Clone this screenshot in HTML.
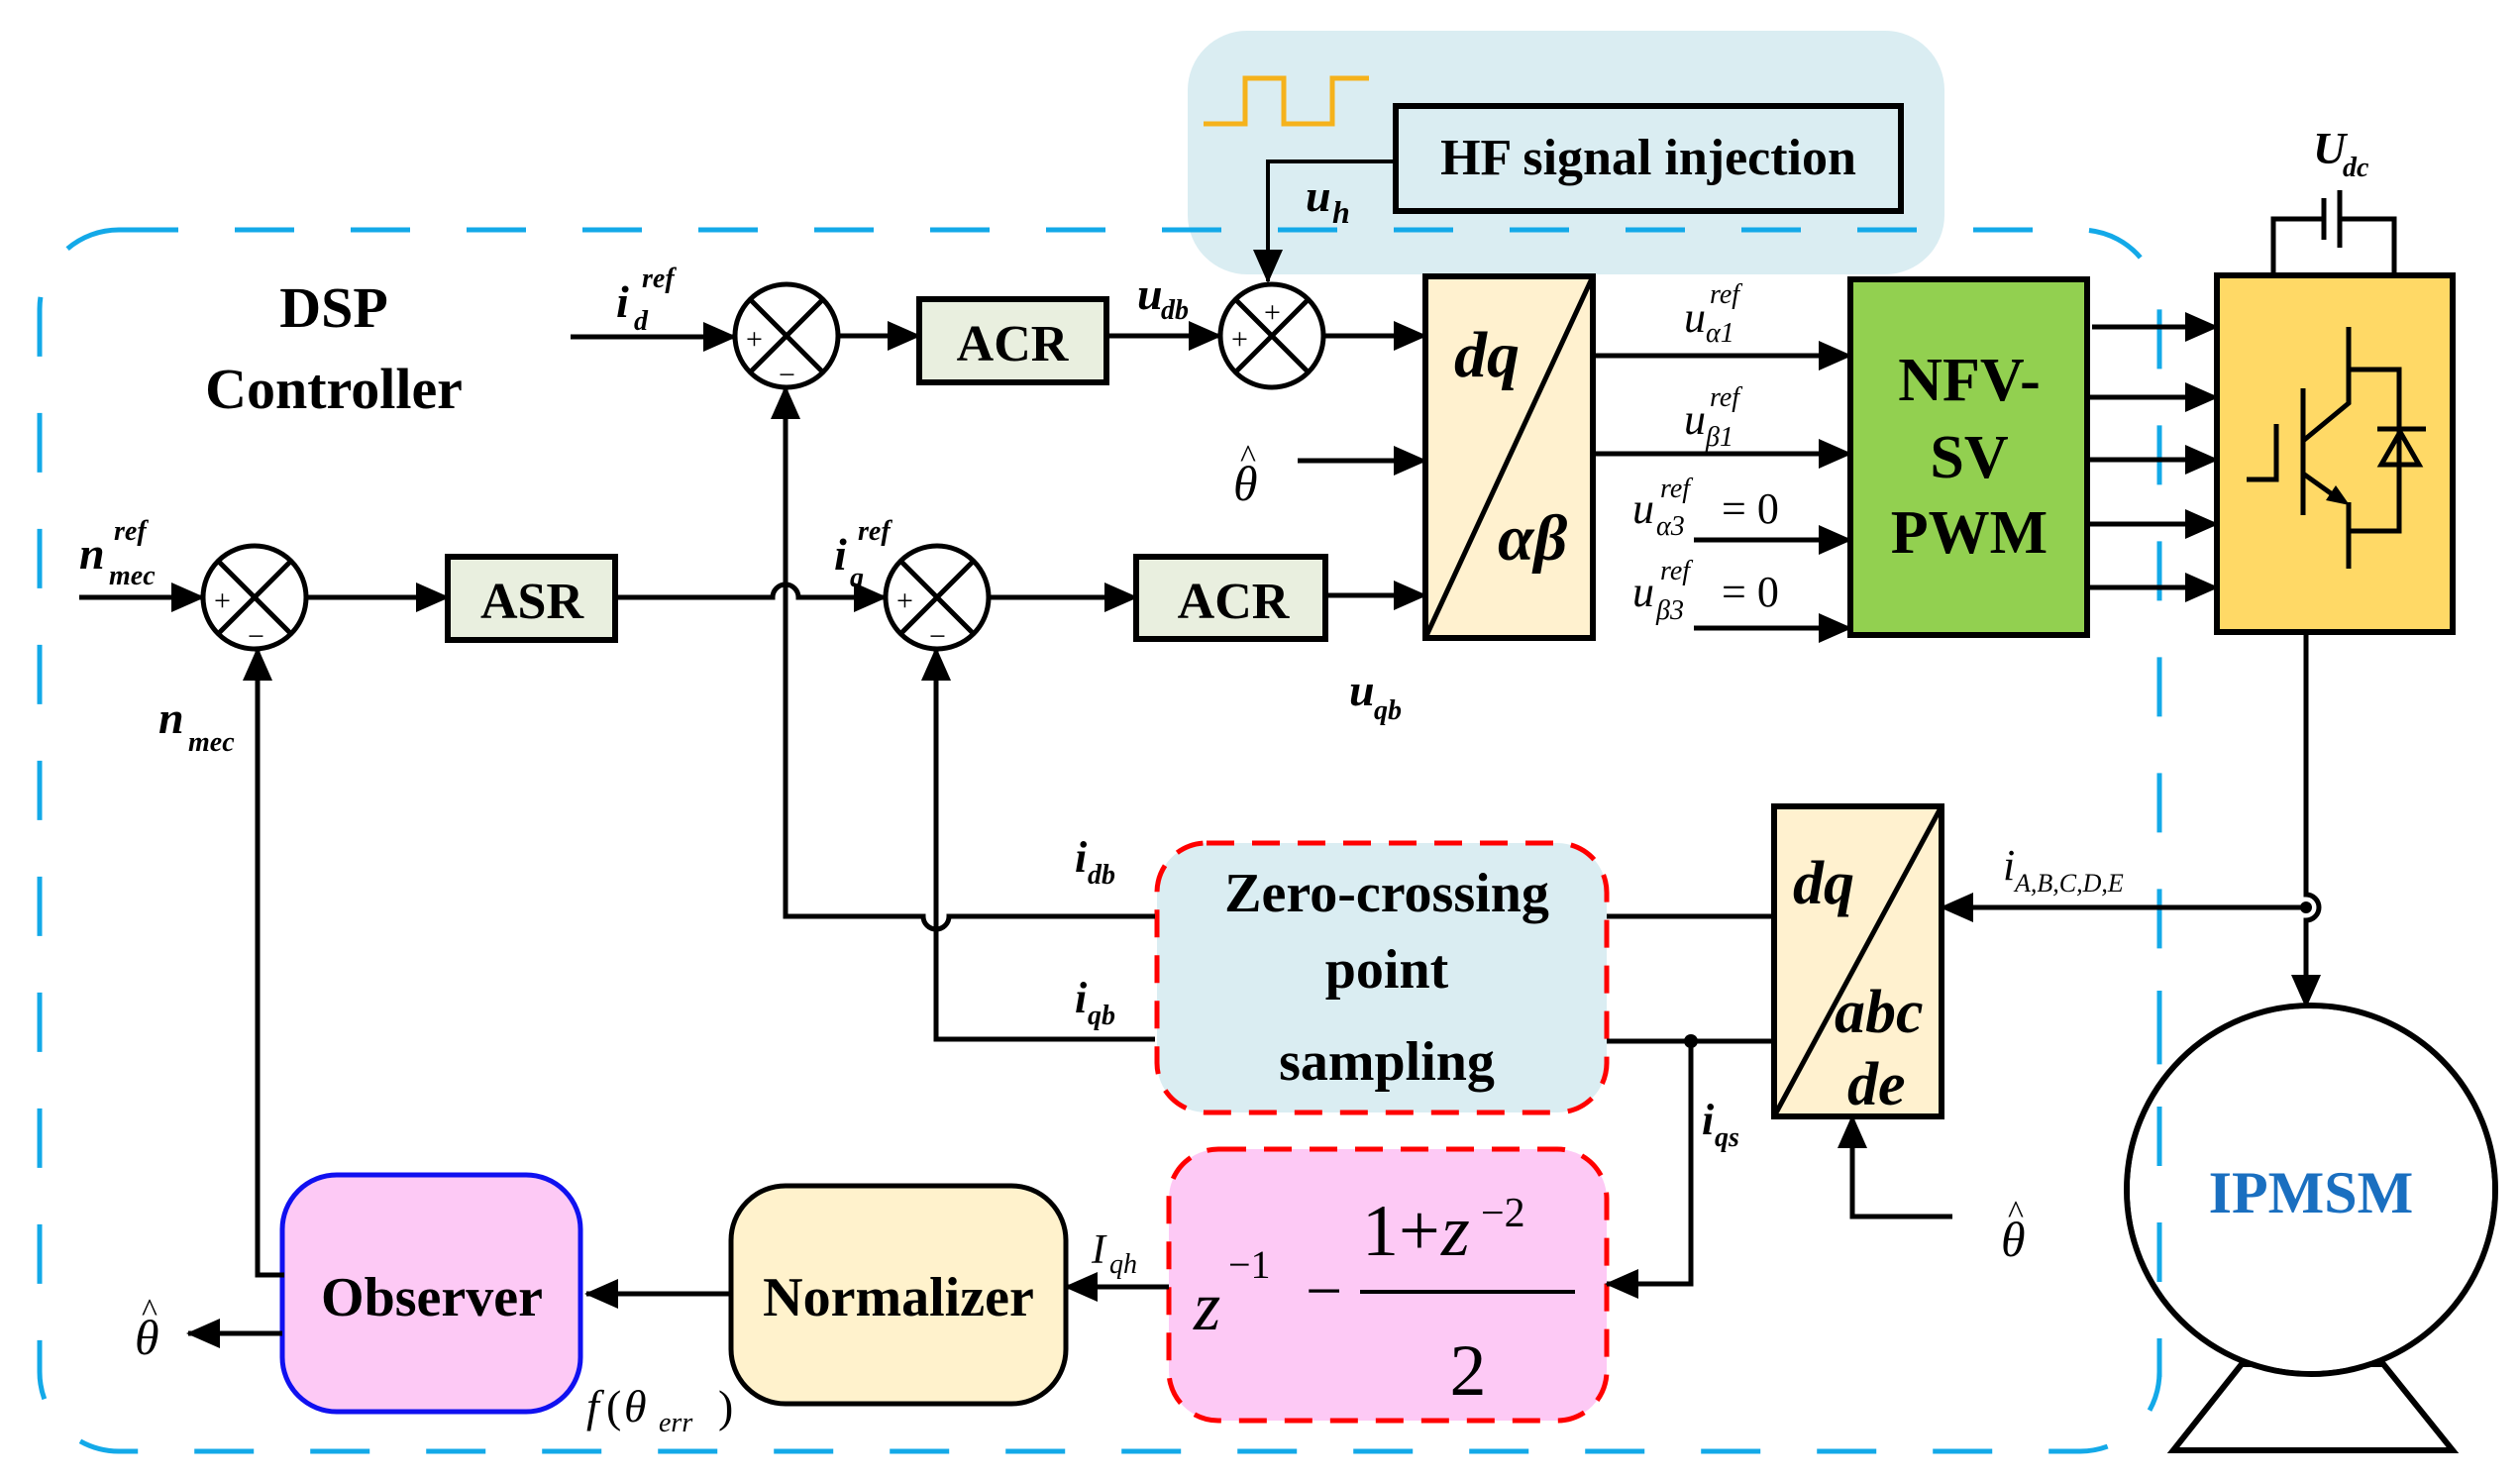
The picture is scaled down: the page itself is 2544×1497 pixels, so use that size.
<!DOCTYPE html>
<html><head><meta charset="utf-8"><style>
html,body{margin:0;padding:0;background:#fff;}
svg{display:block;}
text{font-family:"Liberation Serif",serif;}
.b{font-weight:bold;}
.i{font-style:italic;}
</style></head><body>
<svg width="2544" height="1497" viewBox="0 0 2544 1497" xmlns="http://www.w3.org/2000/svg">
<defs>
<marker id="a" markerUnits="userSpaceOnUse" markerWidth="34" markerHeight="30" refX="32" refY="15" orient="auto">
<path d="M0,0 L34,15 L0,30 z" fill="#000"/>
</marker>
</defs>

<!-- HF region -->
<rect x="1199" y="31" width="764" height="246" rx="60" fill="#daedf2"/>
<polyline points="1215,125 1257,125 1257,79 1296,79 1296,125 1345,125 1345,79 1382,79" fill="none" stroke="#f5b21c" stroke-width="5"/>
<rect x="1409" y="107" width="510" height="106" fill="none" stroke="#000" stroke-width="6"/>
<text x="1664" y="176" text-anchor="middle" class="b" font-size="52">HF signal injection</text>
<polyline points="1409,163 1280,163 1280,284" fill="none" stroke="#000" stroke-width="4" marker-end="url(#a)"/>
<text x="1318" y="213" class="b i" font-size="46">u</text><text x="1345" y="225" class="b i" font-size="32">h</text>

<!-- DSP dashed box -->
<path d="M120,232 L2100,232 A80,80 0 0 1 2180,312 L2180,1385 A80,80 0 0 1 2100,1465 L120,1465 A80,80 0 0 1 40,1385 L40,312 A80,80 0 0 1 120,232 Z" fill="none" stroke="#13a9e8" stroke-width="5" stroke-dasharray="60,57"/>
<text x="337" y="330" text-anchor="middle" class="b" font-size="58">DSP</text>
<text x="337" y="412" text-anchor="middle" class="b" font-size="58">Controller</text>

<g stroke="#000" stroke-width="5" fill="none">
<circle cx="794" cy="339" r="52"/>
<line x1="757" y1="302" x2="831" y2="376"/><line x1="831" y1="302" x2="757" y2="376"/>
<circle cx="1284" cy="339" r="52"/>
<line x1="1247" y1="302" x2="1321" y2="376"/><line x1="1321" y1="302" x2="1247" y2="376"/>
<circle cx="257" cy="603" r="52"/>
<line x1="220" y1="566" x2="294" y2="640"/><line x1="294" y1="566" x2="220" y2="640"/>
<circle cx="946" cy="603" r="52"/>
<line x1="909" y1="566" x2="983" y2="640"/><line x1="983" y1="566" x2="909" y2="640"/>
</g>
<g font-size="30" font-family="Liberation Serif">
<text x="753" y="352">+</text><text x="786" y="388">−</text>
<text x="1243" y="352">+</text><text x="1276" y="325">+</text>
<text x="216" y="616">+</text><text x="250" y="652">−</text>
<text x="905" y="616">+</text><text x="938" y="652">−</text>
</g>

<rect x="928" y="302" width="189" height="84" fill="#e9efdf" stroke="#000" stroke-width="6"/>
<text x="1022" y="364" text-anchor="middle" class="b" font-size="52">ACR</text>
<rect x="452" y="562" width="169" height="84" fill="#e9efdf" stroke="#000" stroke-width="6"/>
<text x="537" y="624" text-anchor="middle" class="b" font-size="52">ASR</text>
<rect x="1147" y="562" width="191" height="83" fill="#e9efdf" stroke="#000" stroke-width="6"/>
<text x="1245" y="624" text-anchor="middle" class="b" font-size="52">ACR</text>

<rect x="1439" y="279" width="169" height="365" fill="#fff1cf" stroke="#000" stroke-width="6"/>
<line x1="1608" y1="279" x2="1439" y2="644" stroke="#000" stroke-width="5"/>
<text x="1468" y="380" class="b i" font-size="66">dq</text>
<text x="1512" y="565" class="b i" font-size="66">αβ</text>

<rect x="1868" y="282" width="239" height="359" fill="#92d050" stroke="#000" stroke-width="6"/>
<text x="1988" y="404" text-anchor="middle" class="b" font-size="62">NFV-</text>
<text x="1988" y="482" text-anchor="middle" class="b" font-size="62">SV</text>
<text x="1988" y="558" text-anchor="middle" class="b" font-size="62">PWM</text>

<rect x="2238" y="278" width="238" height="360" fill="#ffd966" stroke="#000" stroke-width="6"/>
<!-- IGBT symbol -->
<g stroke="#000" stroke-width="5" fill="none">
<polyline points="2298,428 2298,484 2268,484"/>
<line x1="2325" y1="392" x2="2325" y2="520"/>
<polyline points="2371,330 2371,407 2325,445"/>
<line x1="2325" y1="478" x2="2360" y2="503"/>
<line x1="2371" y1="507" x2="2371" y2="574"/>
<polyline points="2371,373 2422,373 2422,536 2371,536"/>
<line x1="2400" y1="433" x2="2449" y2="433"/>
<polygon points="2404,469 2442,469 2423,436"/>
<polyline points="2295,278 2295,221 2346,221"/>
<polyline points="2417,278 2417,221 2362,221"/>
<line x1="2346" y1="200" x2="2346" y2="242"/>
<line x1="2362" y1="192" x2="2362" y2="250"/>
</g>
<polygon points="2372,510 2348,505 2358,490" fill="#000"/>
<text x="2335" y="165" class="b i" font-size="46">U</text><text x="2365" y="178" class="b i" font-size="28">dc</text>

<rect x="1791" y="814" width="169" height="313" fill="#fff1cf" stroke="#000" stroke-width="6"/>
<line x1="1960" y1="814" x2="1791" y2="1127" stroke="#000" stroke-width="5"/>
<text x="1810" y="912" class="b i" font-size="62">dq</text>
<text x="1852" y="1042" class="b i" font-size="62">abc</text>
<text x="1865" y="1115" class="b i" font-size="62">de</text>

<rect x="1168" y="851" width="454" height="272" rx="50" fill="#daedf2" stroke="#f00" stroke-width="5" stroke-dasharray="28,18"/>
<text x="1400" y="920" text-anchor="middle" class="b" font-size="56">Zero-crossing</text>
<text x="1400" y="997" text-anchor="middle" class="b" font-size="56">point</text>
<text x="1400" y="1090" text-anchor="middle" class="b" font-size="56">sampling</text>

<rect x="1180" y="1160" width="442" height="274" rx="50" fill="#fdc9f5" stroke="#f00" stroke-width="5" stroke-dasharray="28,18"/>
<text x="1205" y="1342" class="i" font-size="70">z</text>
<text x="1240" y="1290" font-size="40">−1</text>
<text x="1318" y="1325" font-size="66">−</text>
<text x="1375" y="1267" font-size="74">1+</text><text x="1455" y="1267" class="i" font-size="74">z</text>
<text x="1495" y="1238" font-size="42">−2</text>
<line x1="1373" y1="1304" x2="1590" y2="1304" stroke="#000" stroke-width="4"/>
<text x="1482" y="1408" text-anchor="middle" font-size="74">2</text>

<rect x="738" y="1197" width="338" height="220" rx="55" fill="#fff2cc" stroke="#000" stroke-width="5"/>
<text x="907" y="1328" text-anchor="middle" class="b" font-size="56">Normalizer</text>
<rect x="285" y="1186" width="301" height="239" rx="55" fill="#fdc9f5" stroke="#1010f0" stroke-width="5"/>
<text x="436" y="1328" text-anchor="middle" class="b" font-size="56">Observer</text>

<circle cx="2333" cy="1201" r="186" fill="none" stroke="#000" stroke-width="6"/>
<polygon points="2263,1377 2406,1377 2476,1464 2194,1464" fill="none" stroke="#000" stroke-width="6"/>
<circle cx="2333" cy="1201" r="183" fill="#fff"/>
<text x="2333" y="1224" text-anchor="middle" class="b" font-size="60" fill="#1a6fc0">IPMSM</text>
<line x1="2180" y1="1000" x2="2180" y2="1390" stroke="#13a9e8" stroke-width="5" stroke-dasharray="60,57"/>

<g stroke="#000" stroke-width="5" fill="none">
<line x1="576" y1="340" x2="742" y2="340" marker-end="url(#a)"/>
<line x1="846" y1="339" x2="928" y2="339" marker-end="url(#a)"/>
<line x1="1117" y1="339" x2="1232" y2="339" marker-end="url(#a)"/>
<line x1="1336" y1="339" x2="1439" y2="339" marker-end="url(#a)"/>
<line x1="1310" y1="465" x2="1439" y2="465" marker-end="url(#a)"/>
<line x1="1338" y1="601" x2="1439" y2="601" marker-end="url(#a)"/>
<line x1="80" y1="603" x2="205" y2="603" marker-end="url(#a)"/>
<line x1="309" y1="603" x2="452" y2="603" marker-end="url(#a)"/>
<path d="M621,603 L780,603 A13,13 0 0 1 806,603 L894,603" marker-end="url(#a)"/>
<line x1="998" y1="603" x2="1147" y2="603" marker-end="url(#a)"/>
<line x1="1608" y1="359" x2="1868" y2="359" marker-end="url(#a)"/>
<line x1="1608" y1="458" x2="1868" y2="458" marker-end="url(#a)"/>
<line x1="1710" y1="545" x2="1868" y2="545" marker-end="url(#a)"/>
<line x1="1710" y1="634" x2="1868" y2="634" marker-end="url(#a)"/>
<line x1="2112" y1="330" x2="2238" y2="330" marker-end="url(#a)"/>
<line x1="2107" y1="401" x2="2238" y2="401" marker-end="url(#a)"/>
<line x1="2107" y1="464" x2="2238" y2="464" marker-end="url(#a)"/>
<line x1="2107" y1="529" x2="2238" y2="529" marker-end="url(#a)"/>
<line x1="2107" y1="593" x2="2238" y2="593" marker-end="url(#a)"/>
<path d="M2328,638 L2328,903 A13,13 0 0 1 2328,929 L2328,1016" marker-end="url(#a)"/>
<line x1="2330" y1="916" x2="1960" y2="916" marker-end="url(#a)"/>
<polyline points="1971,1228 1870,1228 1870,1127" marker-end="url(#a)"/>
<line x1="1622" y1="925" x2="1791" y2="925"/>
<line x1="1622" y1="1051" x2="1791" y2="1051"/>
<polyline points="1707,1051 1707,1296 1622,1296" marker-end="url(#a)"/>
<path d="M1166,925 L958,925 A13,13 0 0 1 932,925 L793,925 L793,391" marker-end="url(#a)"/>
<polyline points="1166,1049 945,1049 945,655" marker-end="url(#a)"/>
<line x1="1180" y1="1299" x2="1076" y2="1299" marker-end="url(#a)"/>
<line x1="736" y1="1306" x2="592" y2="1306" marker-end="url(#a)"/>
<line x1="285" y1="1346" x2="190" y2="1346" marker-end="url(#a)"/>
<polyline points="287,1287 260,1287 260,655" marker-end="url(#a)"/>
</g>
<circle cx="1707" cy="1051" r="7" fill="#000"/>
<circle cx="2328" cy="916" r="6" fill="#000"/>

<g font-family="Liberation Serif">
<text x="622" y="320" class="b i" font-size="46">i</text><text x="640" y="333" class="b i" font-size="28">d</text><text x="648" y="290" class="b i" font-size="28">ref</text>
<text x="1148" y="312" class="b i" font-size="46">u</text><text x="1172" y="322" class="b i" font-size="28">db</text>
<text x="80" y="574" class="b i" font-size="46">n</text><text x="110" y="590" class="b i" font-size="28">mec</text><text x="115" y="545" class="b i" font-size="28">ref</text>
<text x="842" y="575" class="b i" font-size="46">i</text><text x="858" y="592" class="b i" font-size="28">q</text><text x="866" y="545" class="b i" font-size="28">ref</text>
<text x="160" y="740" class="b i" font-size="46">n</text><text x="190" y="758" class="b i" font-size="28">mec</text>
<text x="1362" y="712" class="b i" font-size="46">u</text><text x="1387" y="726" class="b i" font-size="28">qb</text>
<text x="1245" y="505" class="i" font-size="50">θ</text><text x="1252" y="472" font-size="34">^</text>
<text x="1700" y="335" class="i" font-size="44">u</text><text x="1722" y="345" class="i" font-size="28">α1</text><text x="1726" y="306" class="i" font-size="28">ref</text>
<text x="1700" y="438" class="i" font-size="44">u</text><text x="1722" y="450" class="i" font-size="28">β1</text><text x="1726" y="410" class="i" font-size="28">ref</text>
<text x="1648" y="528" class="i" font-size="44">u</text><text x="1672" y="540" class="i" font-size="28">α3</text><text x="1676" y="502" class="i" font-size="28">ref</text><text x="1738" y="528" font-size="44">= 0</text>
<text x="1648" y="612" class="i" font-size="44">u</text><text x="1672" y="625" class="i" font-size="28">β3</text><text x="1676" y="585" class="i" font-size="28">ref</text><text x="1738" y="612" font-size="44">= 0</text>
<text x="2022" y="888" class="i" font-size="44">i</text><text x="2034" y="900" class="i" font-size="26">A,B,C,D,E</text>
<text x="1085" y="880" class="b i" font-size="44">i</text><text x="1098" y="892" class="b i" font-size="28">db</text>
<text x="1085" y="1022" class="b i" font-size="44">i</text><text x="1098" y="1034" class="b i" font-size="28">qb</text>
<text x="1718" y="1145" class="b i" font-size="44">i</text><text x="1731" y="1157" class="b i" font-size="28">qs</text>
<text x="1102" y="1275" class="i" font-size="42">I</text><text x="1120" y="1285" class="i" font-size="28">qh</text>
<text x="2020" y="1268" class="i" font-size="50">θ</text><text x="2027" y="1235" font-size="34">^</text>
<text x="136" y="1367" class="i" font-size="50">θ</text><text x="143" y="1334" font-size="34">^</text>
<text x="592" y="1435" class="i" font-size="46">f</text><text x="612" y="1435" font-size="46">(</text><text x="630" y="1435" class="i" font-size="46">θ</text><text x="665" y="1445" class="i" font-size="28">err</text><text x="725" y="1435" font-size="46">)</text>
</g>
</svg>
</body></html>
